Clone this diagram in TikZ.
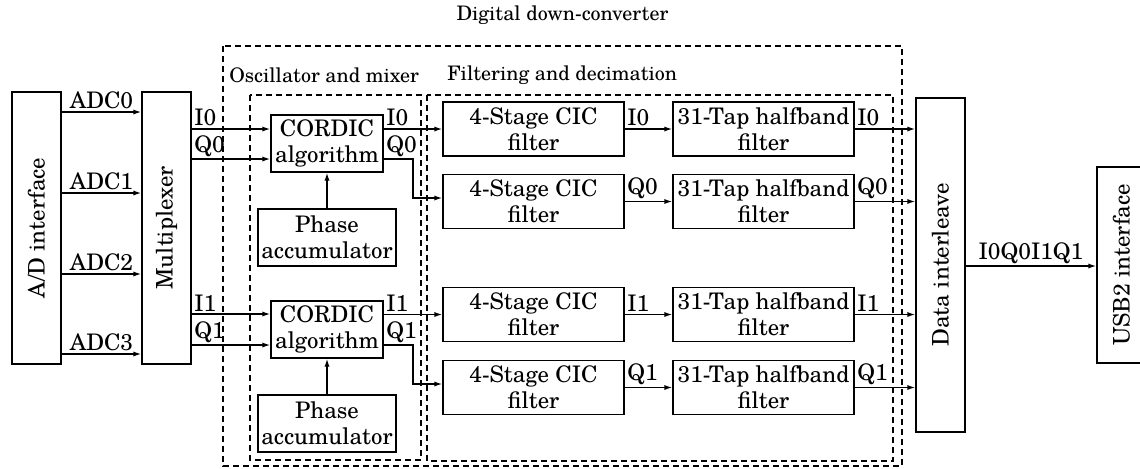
\documentclass[tikz,border=0pt]{standalone}
\usepackage{fontspec}
\setmainfont{texgyreschola-regular.otf}
\usetikzlibrary{arrows.meta,calc}
\begin{document}
\begin{tikzpicture}[x=0.5pt,y=-0.5pt,
  every node/.style={font=\fontsize{11.4}{13}\selectfont, inner sep=0pt},
  hfont/.style={font=\fontsize{10}{12}\selectfont},
  blk/.style args={#1/#2}{draw, line width=0.7pt, minimum width=#1*0.5pt, minimum height=#2*0.5pt, align=center},
  grp/.style={draw, line width=1pt, dash pattern=on 3pt off 2pt},
  arr/.style={-{Latex[length=4pt,width=2.6pt]}, line width=0.7pt},
  lbl/.style={above, inner sep=1pt},
  tag/.style={anchor=south west, inner sep=1pt}]
\useasboundingbox (0,0) rectangle (1140,468);

% group boxes
\draw[grp] (223,46) rectangle (902,466);
\draw[grp] (250,95) rectangle (421,460);
\draw[grp] (427,95) rectangle (893,461);
\node[hfont] (hdr) at (562.5,15) {Digital down-converter};
\node[hfont, anchor=west] (hosc) at (229,75) {Oscillator and mixer};
\node[hfont, anchor=west] (hfilt) at (447,75) {Filtering and decimation};

% blocks
\node[blk=272/49, rotate=90] (ad) at (36.5,228) {A/D interface};
\node[blk=272/49, rotate=90] (mux) at (166.5,228) {Multiplexer};
\node[blk=112/57] (cor1) at (327,143.5) {CORDIC\\algorithm};
\node[blk=138/57] (ph1) at (327,237.5) {Phase\\accumulator};
\node[blk=112/57] (cor2) at (327,329.5) {CORDIC\\algorithm};
\node[blk=138/57] (ph2) at (327,423.5) {Phase\\accumulator};
\node[blk=181/54] (cic1) at (533.5,129) {4-Stage CIC\\filter};
\node[blk=181/54] (cic2) at (533.5,201.5) {4-Stage CIC\\filter};
\node[blk=181/54] (cic3) at (533.5,314.5) {4-Stage CIC\\filter};
\node[blk=181/54] (cic4) at (533.5,387.5) {4-Stage CIC\\filter};
\node[blk=181/54] (hb1) at (763.5,129) {31-Tap halfband\\filter};
\node[blk=181/54] (hb2) at (763.5,201.5) {31-Tap halfband\\filter};
\node[blk=181/54] (hb3) at (763.5,314.5) {31-Tap halfband\\filter};
\node[blk=181/54] (hb4) at (763.5,387.5) {31-Tap halfband\\filter};
\node[blk=334/49, rotate=90] (di) at (940.5,265) {Data interleave};
\node[blk=196/49, rotate=90] (usb) at (1121.5,265) {USB2 interface};

% ADC lines
\foreach \y/\t in {112/ADC0,193/ADC1,274/ADC2,354/ADC3}
  \draw[arr] (ad.south |- 0,\y) -- node[lbl]{\t} (mux.north |- 0,\y);

% multiplexer to CORDIC
\draw[arr] (mux.south |- 0,129) node[tag]{I0} -- (cor1.west |- 0,129);
\draw[arr] (mux.south |- 0,159) node[tag]{Q0} -- (cor1.west |- 0,159);
\draw[arr] (mux.south |- 0,314) node[tag]{I1} -- (cor2.west |- 0,314);
\draw[arr] (mux.south |- 0,345) node[tag]{Q1} -- (cor2.west |- 0,345);

% phase accumulators
\draw[arr] (ph1.north) -- (cor1.south);
\draw[arr] (ph2.north) -- (cor2.south);

% CORDIC to CIC
\coordinate (b1) at (413,159);
\coordinate (b2) at (413,345);
\draw[arr] (cor1.east |- cic1.west) node[tag]{I0} -- (cic1.west);
\draw[arr] (cor1.east |- b1) node[tag]{Q0} -- (b1) |- (cic2.west |- 0,198);
\draw[arr] (cor2.east |- cic3.west) node[tag]{I1} -- (cic3.west);
\draw[arr] (cor2.east |- b2) node[tag]{Q1} -- (b2) |- (cic4.west |- 0,384);

% CIC to halfband
\draw[arr] (cic1.east) node[tag]{I0} -- (hb1.west);
\draw[arr] (cic2.east) node[tag]{Q0} -- (hb2.west);
\draw[arr] (cic3.east) node[tag]{I1} -- (hb3.west);
\draw[arr] (cic4.east) node[tag]{Q1} -- (hb4.west);

% halfband to data interleave
\draw[arr] (hb1.east) node[tag]{I0} -- (di.north |- hb1.east);
\draw[arr] (hb2.east) node[tag]{Q0} -- (di.north |- hb2.east);
\draw[arr] (hb3.east) node[tag]{I1} -- (di.north |- hb3.east);
\draw[arr] (hb4.east) node[tag]{Q1} -- (di.north |- hb4.east);

% to USB
\draw[arr] (di.south |- 0,266) -- node[lbl]{I0Q0I1Q1} (usb.north |- 0,266);
\end{tikzpicture}
\end{document}
